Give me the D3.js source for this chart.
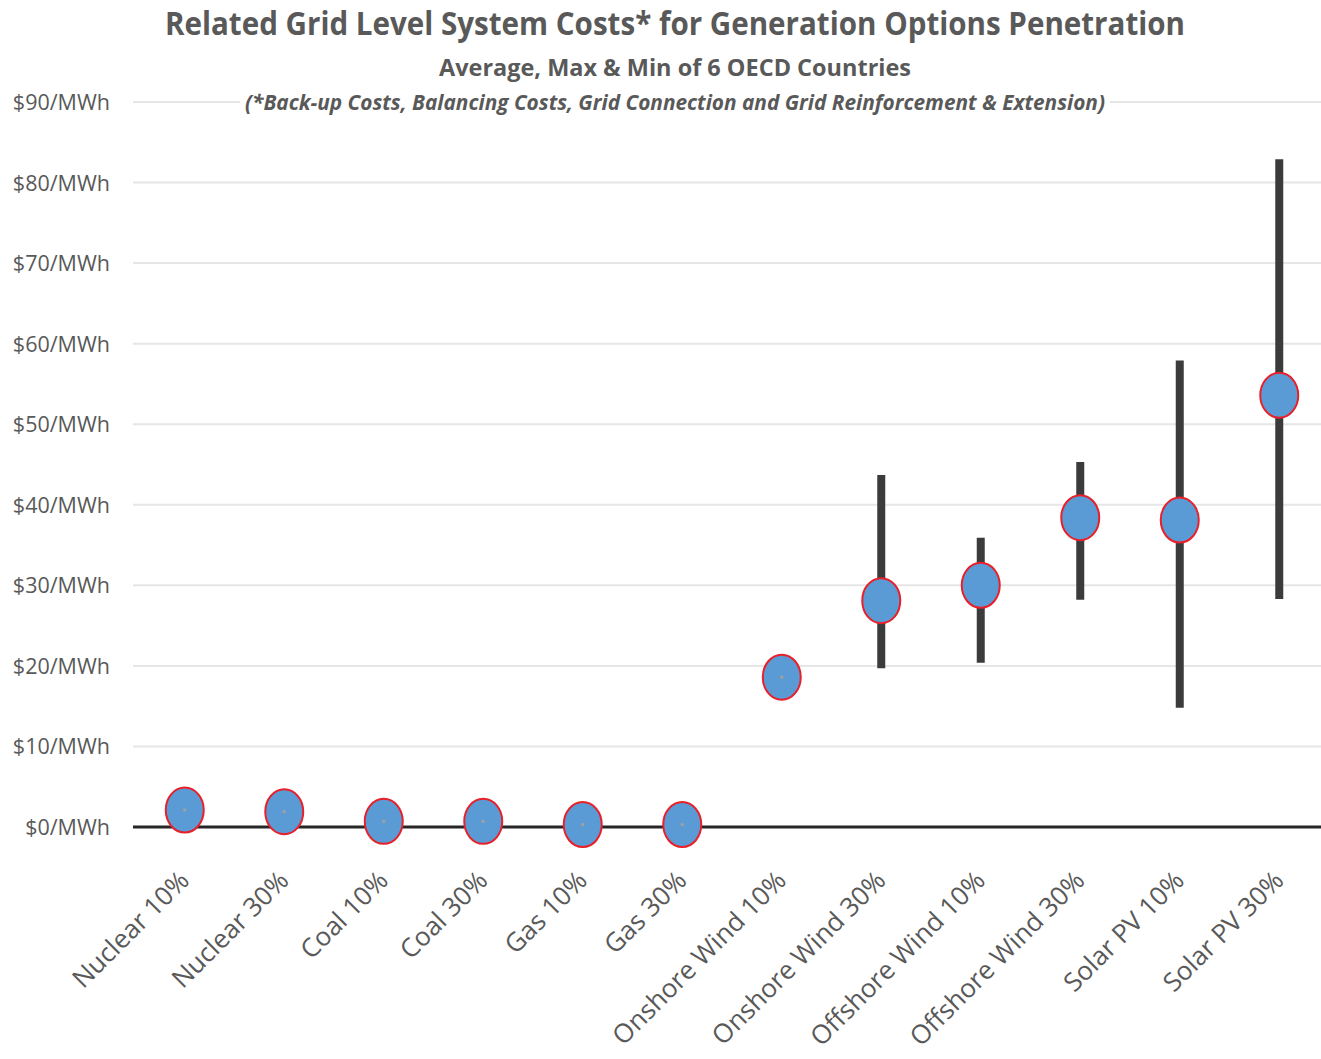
<!DOCTYPE html>
<html>
<head>
<meta charset="utf-8">
<script src="https://cdn.jsdelivr.net/npm/d3@7"></script>
<style>
  body { margin: 0; background: #fff; }
  text { font-family: "Open Sans", "Noto Sans", sans-serif; fill: #595959; }
</style>
</head>
<body>
<svg id="chart"></svg>
<script>
const categories = ["Nuclear 10%", "Nuclear 30%", "Coal 10%", "Coal 30%", "Gas 10%", "Gas 30%",
  "Onshore Wind 10%", "Onshore Wind 30%", "Offshore Wind 10%", "Offshore Wind 30%",
  "Solar PV 10%", "Solar PV 30%"]
const avgCost = [2.1, 1.9, 0.7, 0.7, 0.3, 0.3, 18.6, 28.1, 30.0, 38.4, 38.1, 53.6]
const maxCost = [2.1, 1.9, 0.7, 0.7, 0.3, 0.3, 18.6, 43.7, 35.9, 45.3, 57.9, 82.9]
const minCost = [2.1, 1.9, 0.7, 0.7, 0.3, 0.3, 18.6, 19.7, 20.4, 28.2, 14.8, 28.3]
const yTicks = [0, 10, 20, 30, 40, 50, 60, 70, 80, 90]

const width = 1321, height = 1059
const svg = d3.select("#chart").attr("width", width).attr("height", height)

const x = d3.scaleBand().domain(categories).range([135, 1329])
const y = d3.scaleLinear().domain([0, 90]).range([827, 102])

const rows = categories.map((c, i) => ({ cat: c, avg: avgCost[i], max: maxCost[i], min: minCost[i] }))
const cx = d => x(d.cat) + x.bandwidth() / 2

// gridlines
svg.append("g")
  .selectAll("line")
  .data(yTicks.filter(t => t > 0))
  .enter().append("line")
  .attr("x1", 133).attr("x2", width)
  .attr("y1", d => y(d)).attr("y2", d => y(d))
  .attr("stroke", "#e6e6e6").attr("stroke-width", 2)

// y labels
const yAxis = svg.append("g")
  .attr("transform", "translate(110,0)")
  .call(d3.axisLeft(y).tickValues(yTicks).tickSize(0).tickPadding(0).tickFormat(d => "$" + d + "/MWh"))
yAxis.select(".domain").remove()
yAxis.selectAll("text")
  .attr("dy", "0.35em")
  .style("font-size", "21.5px")
  .style("font-family", "'Open Sans', sans-serif")
  .attr("fill", "#595959")

// zero baseline
svg.append("line")
  .attr("x1", 133).attr("x2", width)
  .attr("y1", y(0)).attr("y2", y(0))
  .attr("stroke", "#262626").attr("stroke-width", 3)

// x labels
const xAxis = svg.append("g")
  .attr("transform", "translate(0," + y(0) + ")")
  .call(d3.axisBottom(x).tickSize(0).tickPadding(0))
xAxis.select(".domain").remove()
xAxis.selectAll("text")
  .attr("text-anchor", "end")
  .attr("transform", "translate(6,55) rotate(-45)")
  .attr("dy", "0")
  .style("font-size", "26px")
  .style("font-family", "'Open Sans', sans-serif")
  .attr("fill", "#595959")

// min-max bars
svg.append("g")
  .selectAll("line")
  .data(rows.filter(d => d.max > d.min))
  .enter().append("line")
  .attr("x1", cx).attr("x2", cx)
  .attr("y1", d => y(d.max)).attr("y2", d => y(d.min))
  .attr("stroke", "#3b3b3b").attr("stroke-width", 8)

// averages
svg.append("g")
  .selectAll("ellipse")
  .data(rows)
  .enter().append("ellipse")
  .attr("cx", cx)
  .attr("cy", d => y(d.avg))
  .attr("rx", 19).attr("ry", 22.5)
  .attr("fill", "#5b9bd5")
  .attr("stroke", "#e8202a").attr("stroke-width", 2)

// small centre marks where max == min
svg.append("g")
  .selectAll("rect")
  .data(rows.filter(d => d.max == d.min))
  .enter().append("rect")
  .attr("x", d => cx(d) - 1.5)
  .attr("y", d => y(d.avg) - 1.5)
  .attr("width", 3).attr("height", 3)
  .attr("fill", "#a0a0a0")

// titles
svg.append("text")
  .attr("x", 675).attr("y", 35)
  .attr("text-anchor", "middle")
  .attr("textLength", 1020).attr("lengthAdjust", "spacingAndGlyphs")
  .style("font-size", "32px").style("font-weight", "bold")
  .text("Related Grid Level System Costs* for Generation Options Penetration")

svg.append("text")
  .attr("x", 675).attr("y", 76)
  .attr("text-anchor", "middle")
  .attr("textLength", 472).attr("lengthAdjust", "spacingAndGlyphs")
  .style("font-size", "23px").style("font-weight", "bold")
  .text("Average, Max & Min of 6 OECD Countries")

svg.append("rect")
  .attr("x", 240).attr("y", 88).attr("width", 870).attr("height", 28)
  .attr("fill", "#fff")
svg.append("text")
  .attr("x", 675).attr("y", 110)
  .attr("text-anchor", "middle")
  .attr("textLength", 860).attr("lengthAdjust", "spacingAndGlyphs")
  .style("font-size", "21px").style("font-weight", "bold").style("font-style", "italic")
  .text("(*Back-up Costs, Balancing Costs, Grid Connection and Grid Reinforcement & Extension)")
</script>
</body>
</html>
